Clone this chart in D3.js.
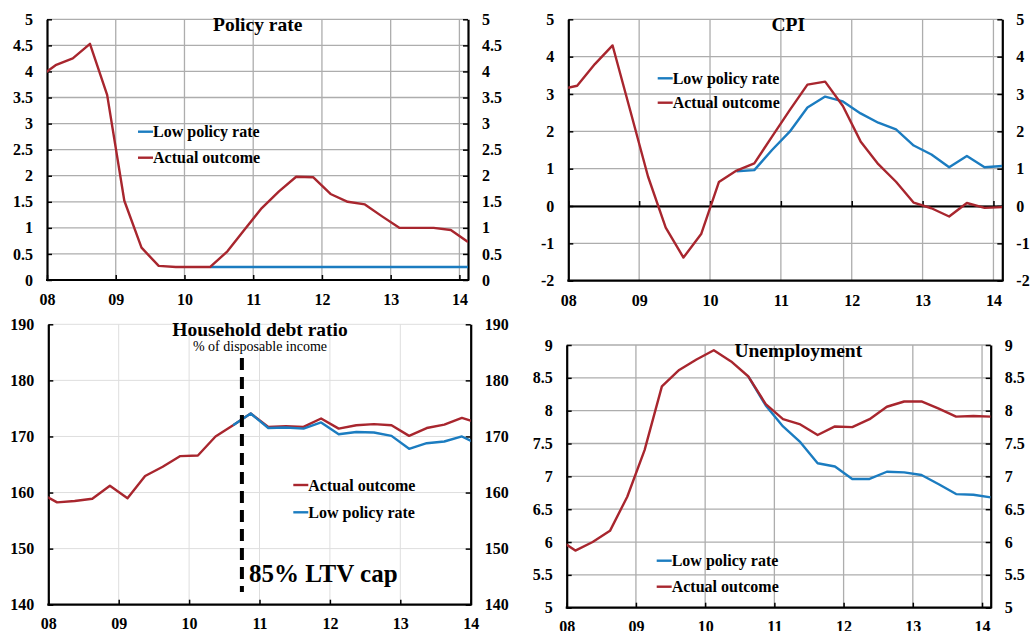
<!DOCTYPE html>
<html>
<head>
<meta charset="utf-8">
<script src="https://cdn.jsdelivr.net/npm/d3@7"></script>
<style>
  body { margin: 0; background: #fff; }
  svg { display: block; font-family: "Liberation Serif", "Times New Roman", serif; }
  .tick text { font-family: "Liberation Serif", "Times New Roman", serif; font-size: 16px; font-weight: bold; fill: #000; }
</style>
</head>
<body>
<svg id="chart" width="1031" height="631"></svg>
<script>
// quarterly data, 2007Q4 .. 2014Q1 (points sit mid-quarter)
var quarters = ["07Q4","08Q1","08Q2","08Q3","08Q4","09Q1","09Q2","09Q3","09Q4",
  "10Q1","10Q2","10Q3","10Q4","11Q1","11Q2","11Q3","11Q4","12Q1","12Q2","12Q3","12Q4",
  "13Q1","13Q2","13Q3","13Q4","14Q1"];

var policyActual = [3.88,4.12,4.25,4.53,3.55,1.52,0.62,0.27,0.25,0.25,0.25,0.55,0.97,
  1.38,1.70,1.98,1.97,1.65,1.50,1.45,1.22,1.00,1.00,1.00,0.96,0.73];
var policyLow = [null,null,null,null,null,null,null,null,null,null,0.25,0.25,0.25,
  0.25,0.25,0.25,0.25,0.25,0.25,0.25,0.25,0.25,0.25,0.25,0.25,0.25];

var cpiActual = [3.12,3.22,3.80,4.30,2.55,0.79,-0.58,-1.38,-0.75,0.64,0.95,1.14,1.86,
  2.57,3.25,3.33,2.68,1.73,1.12,0.65,0.09,-0.06,-0.28,0.08,-0.05,-0.03];
var cpiLow = [null,null,null,null,null,null,null,null,null,null,0.93,0.96,1.50,
  1.99,2.64,2.93,2.80,2.48,2.23,2.05,1.62,1.38,1.04,1.34,1.04,1.07];

var debtActual = [160.0,158.25,158.5,158.9,161.2,159.0,162.95,164.6,166.5,166.6,170.0,172.0,174.1,
  171.7,171.85,171.7,173.2,171.4,172.0,172.2,172.0,170.1,171.5,172.1,173.3,172.3];
var debtLow = [null,null,null,null,null,null,null,null,null,null,null,172.0,174.1,
  171.5,171.6,171.4,172.5,170.4,170.8,170.7,170.1,167.8,168.8,169.1,170.0,168.5];

var unempActual = [6.05,5.87,6.00,6.17,6.69,7.40,8.37,8.62,8.78,8.92,8.75,8.52,8.10,
  7.87,7.79,7.63,7.76,7.75,7.87,8.06,8.14,8.14,8.03,7.91,7.92,7.91];
var unempLow = [null,null,null,null,null,null,null,null,null,null,null,8.52,8.08,
  7.76,7.52,7.20,7.15,6.96,6.96,7.07,7.06,7.02,6.88,6.73,6.72,6.68];

var yearTicks = [2008,2009,2010,2011,2012,2013,2014];
var yearLabels = ["08","09","10","11","12","13","14"];
var policyTicks = [0,0.5,1,1.5,2,2.5,3,3.5,4,4.5,5];
var cpiTicks = [-2,-1,0,1,2,3,4,5];
var debtTicks = [140,150,160,170,180,190];
var unempTicks = [5,5.5,6,6.5,7,7.5,8,8.5,9];

var RED = "#a8262e", BLUE = "#1b7cc0";
var LOW = "Low policy rate", ACT = "Actual outcome";

function qToYear(q) {
  return 2000 + parseInt(q.slice(0,2)) + (parseInt(q[3]) - 1) * 0.25 + 0.125;
}

var svg = d3.select("#chart");

function drawPanel(p) {
  var x = d3.scaleLinear().domain(p.xDomain).range([p.left, p.right]);
  var y = d3.scaleLinear().domain([p.ticks[0], p.ticks[p.ticks.length-1]]).range([p.bottom, p.top]);
  var g = svg.append("g");

  // grid
  var gridColor = p.light ? "#dedede" : "#adadad";
  g.selectAll(".hg").data(p.ticks).enter().append("line")
    .attr("x1", p.left).attr("x2", p.right)
    .attr("y1", d => y(d)).attr("y2", d => y(d))
    .attr("stroke", gridColor).attr("stroke-width", p.light ? 1 : 1.3);
  g.selectAll(".vg").data(yearTicks.slice(1)).enter().append("line")
    .attr("x1", d => x(d)).attr("x2", d => x(d))
    .attr("y1", p.top).attr("y2", p.bottom)
    .attr("stroke", gridColor).attr("stroke-width", p.light ? 1 : 1.3);

  // axes
  var fmt = d => String(+d.toFixed(1));
  var axL = g.append("g").attr("transform", "translate(" + p.left + ",0)")
    .call(d3.axisLeft(y).tickValues(p.ticks).tickFormat(fmt).tickSizeInner(-5).tickSizeOuter(0).tickPadding(14));
  var axR = g.append("g").attr("transform", "translate(" + p.right + ",0)")
    .call(d3.axisRight(y).tickValues(p.ticks).tickFormat(fmt).tickSizeInner(-5).tickSizeOuter(0).tickPadding(14));
  var axB = g.append("g").attr("transform", "translate(0," + p.bottom + ")")
    .call(d3.axisBottom(x).tickValues(yearTicks).tickFormat((d, i) => yearLabels[i])
      .tickSizeInner(p.zeroLine ? 0 : -5).tickSizeOuter(0).tickPadding(p.xPad));
  [axL, axR, axB].forEach(function (a) {
    a.attr("font-family", null);
    a.select(".domain").attr("stroke", "#000").attr("stroke-width", 2.2);
    a.selectAll(".tick line").attr("stroke", "#000").attr("stroke-width", 1.5);
  });
  axB.select(".domain").attr("d", "M" + (p.left - 1) + ",0H" + (p.right + 1));
  if (p.zeroLine) {
    var axZ = g.append("g").attr("transform", "translate(0," + y(0) + ")")
      .call(d3.axisBottom(x).tickValues(yearTicks).tickFormat("").tickSizeInner(-5).tickSizeOuter(0));
    axZ.select(".domain").attr("stroke", "#000").attr("stroke-width", 2.2);
    axZ.selectAll(".tick line").attr("stroke", "#000").attr("stroke-width", 1.5);
  }

  // lines
  var clipId = "clip" + p.id;
  svg.append("clipPath").attr("id", clipId).append("rect")
    .attr("x", p.left).attr("y", p.top - 5).attr("width", p.right - p.left).attr("height", p.bottom - p.top + 10);
  var line = d3.line().defined(d => d.v != null).x(d => x(d.t)).y(d => y(d.v));
  p.series.forEach(function (s) {
    var pts = quarters.map((q, i) => ({ t: qToYear(q), v: s.values[i] }));
    g.append("path").attr("clip-path", "url(#" + clipId + ")")
      .attr("d", line(pts)).attr("fill", "none")
      .attr("stroke", s.color).attr("stroke-width", 2.4).attr("stroke-linejoin", "round");
  });

  // legend
  p.legend.forEach(function (s, i) {
    var ly = p.legendY[i];
    g.append("line").attr("x1", p.legendX).attr("x2", p.legendX + 15)
      .attr("y1", ly).attr("y2", ly).attr("stroke", s.color).attr("stroke-width", 2.4);
    g.append("text").attr("x", p.legendX + 15).attr("y", ly + 5.6)
      .attr("font-size", 16).attr("font-weight", "bold").text(s.name);
  });

  // title
  g.append("text").attr("x", p.titleX).attr("y", p.titleY).attr("text-anchor", "middle")
    .attr("font-size", 19.5).attr("font-weight", "bold").text(p.title);
  return { x: x, y: y, g: g };
}

var sPA = { name: ACT, color: RED, values: policyActual }, sPL = { name: LOW, color: BLUE, values: policyLow };
drawPanel({ id: 1, left: 47, right: 468, top: 19.3, bottom: 280, xDomain: [2008, 2014.125],
  ticks: policyTicks, xPad: 14, series: [sPL, sPA], legend: [sPL, sPA],
  legendX: 138, legendY: [131.7, 157.7], title: "Policy rate", titleX: 257.7, titleY: 31 });

var sCA = { name: ACT, color: RED, values: cpiActual }, sCL = { name: LOW, color: BLUE, values: cpiLow };
drawPanel({ id: 2, left: 568.3, right: 1002.3, top: 19.3, bottom: 280.7, xDomain: [2008, 2014.125],
  ticks: cpiTicks, xPad: 13.5, zeroLine: true, series: [sCL, sCA], legend: [sCL, sCA],
  legendX: 657.7, legendY: [78.3, 102.7], title: "CPI", titleX: 788.3, titleY: 31 });

var sDA = { name: ACT, color: RED, values: debtActual }, sDL = { name: LOW, color: BLUE, values: debtLow };
var p3 = drawPanel({ id: 3, left: 48.3, right: 470.7, top: 324.3, bottom: 604.7, xDomain: [2008, 2014],
  ticks: debtTicks, xPad: 12.5, light: true, series: [sDA, sDL], legend: [sDA, sDL],
  legendX: 293.3, legendY: [485, 512.3], title: "Household debt ratio", titleX: 260, titleY: 336 });
p3.g.append("text").attr("x", 260).attr("y", 351).attr("text-anchor", "middle")
  .attr("font-size", 14).text("% of disposable income");
var ltvDate = 2010.75;
p3.g.append("line").attr("x1", p3.x(ltvDate)).attr("x2", p3.x(ltvDate))
  .attr("y1", 358).attr("y2", 592).attr("stroke", "#000").attr("stroke-width", 4)
  .attr("stroke-dasharray", "12,7");
p3.g.append("text").attr("x", p3.x(ltvDate) + 7).attr("y", 581.7)
  .attr("font-size", 25).attr("font-weight", "bold").text("85% LTV cap");

var sUA = { name: ACT, color: RED, values: unempActual }, sUL = { name: LOW, color: BLUE, values: unempLow };
drawPanel({ id: 4, left: 566.7, right: 990.7, top: 345, bottom: 607.7, xDomain: [2008, 2014.125],
  ticks: unempTicks, xPad: 12.5, series: [sUL, sUA], legend: [sUL, sUA],
  legendX: 656.7, legendY: [560.7, 586.7], title: "Unemployment", titleX: 798.3, titleY: 357.3 });
</script>
</body>
</html>
